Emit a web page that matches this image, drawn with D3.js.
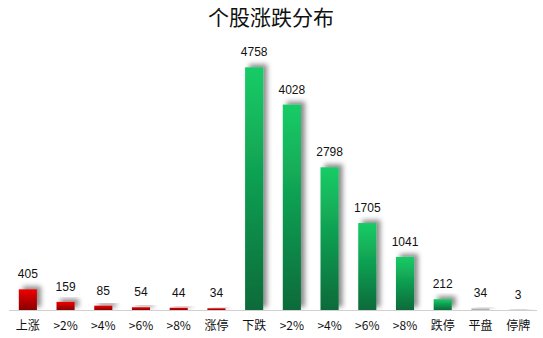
<!DOCTYPE html>
<head>
    <meta charset="utf-8">
    <title>个股涨跌分布</title>
    <style>
        body { margin: 0; background: #fff; }
        .val { font-family: "Liberation Sans", "DejaVu Sans", sans-serif; font-size: 12px; fill: #111; }
        .cat { font-family: "Noto Sans CJK SC", sans-serif; font-size: 12px; fill: #111; }
    </style>
</head>
<body>
    <script src="https://d3js.org/d3.v7.min.js"></script>
    <script>

        var categories = ['上涨', '>2%', '>4%', '>6%', '>8%', '涨停', '下跌', '>2%', '>4%', '>6%', '>8%', '跌停', '平盘', '停牌'];
        var values = [405, 159, 85, 54, 44, 34, 4758, 4028, 2798, 1705, 1041, 212, 34, 3];
        var groups = ['up', 'up', 'up', 'up', 'up', 'up', 'down', 'down', 'down', 'down', 'down', 'down', 'flat', 'halt'];

        var width = 543, height = 338;
        var baseY = 310;

        var data = categories.map(function (c, i) {
            return { i: i, cat: c, value: values[i], group: groups[i] };
        });

        var x = d3.scaleBand()
            .domain(d3.range(categories.length))
            .range([9, 537])
            .paddingInner(0.52)
            .paddingOuter(0.26);

        var y = d3.scaleLinear()
            .domain([0, 5000])
            .range([baseY, 55]);

        var svg = d3.select('body').append('svg')
            .attr('width', width)
            .attr('height', height);

        var defs = svg.append('defs');

        function grad(id, top, bottom) {
            var g = defs.append('linearGradient')
                .attr('id', id)
                .attr('x1', 0).attr('y1', 0).attr('x2', 0).attr('y2', 1);
            g.append('stop').attr('offset', '0%').attr('stop-color', top);
            g.append('stop').attr('offset', '100%').attr('stop-color', bottom);
        }
        grad('g-up', '#ee0000', '#8a0000');
        grad('g-down', '#16cc66', '#0a6a3a');
        grad('g-flat', '#c8c8c8', '#a8a8a8');
        grad('g-halt', '#555555', '#333333');

        var f = defs.append('filter')
            .attr('id', 'shadow')
            .attr('x', '-50%').attr('y', '-50%').attr('width', '200%').attr('height', '200%');
        f.append('feDropShadow')
            .attr('dx', 4).attr('dy', -3)
            .attr('stdDeviation', 2.5)
            .attr('flood-color', '#000')
            .attr('flood-opacity', 0.45);

        // title
        svg.append('text')
            .attr('x', 271)
            .attr('y', 25)
            .attr('text-anchor', 'middle')
            .style('font-family', '"Noto Sans CJK SC", sans-serif')
            .style('font-size', '21px')
            .style('fill', '#111')
            .text('个股涨跌分布');

        // bars
        var barG = svg.append('g');
        barG.append('clipPath').attr('id', 'clipBase')
            .append('rect').attr('x', 0).attr('y', 0).attr('width', width).attr('height', baseY);

        barG.append('g')
            .attr('clip-path', 'url(#clipBase)')
            .selectAll('rect')
            .data(data)
            .enter().append('rect')
            .attr('x', function (d) { return x(d.i); })
            .attr('y', function (d) { return y(d.value); })
            .attr('width', x.bandwidth())
            .attr('height', function (d) { return Math.max(baseY - y(d.value), 1.5); })
            .attr('fill', function (d) { return 'url(#g-' + d.group + ')'; })
            .attr('filter', 'url(#shadow)');

        // axis line
        svg.append('line')
            .attr('x1', 9).attr('x2', 537)
            .attr('y1', baseY + 0.5).attr('y2', baseY + 0.5)
            .attr('stroke', '#d0d0d0')
            .attr('stroke-width', 1);

        // value labels
        svg.append('g').selectAll('text')
            .data(data)
            .enter().append('text')
            .attr('class', 'val')
            .attr('x', function (d) { return x(d.i) + x.bandwidth() / 2; })
            .attr('y', function (d) { return y(d.value) - 11; })
            .attr('text-anchor', 'middle')
            .text(function (d) { return d.value; });

        // category labels
        svg.append('g').selectAll('text')
            .data(data)
            .enter().append('text')
            .attr('class', 'cat')
            .attr('x', function (d) { return x(d.i) + x.bandwidth() / 2; })
            .attr('y', 330)
            .attr('text-anchor', 'middle')
            .text(function (d) { return d.cat; });

    </script>
</body>
